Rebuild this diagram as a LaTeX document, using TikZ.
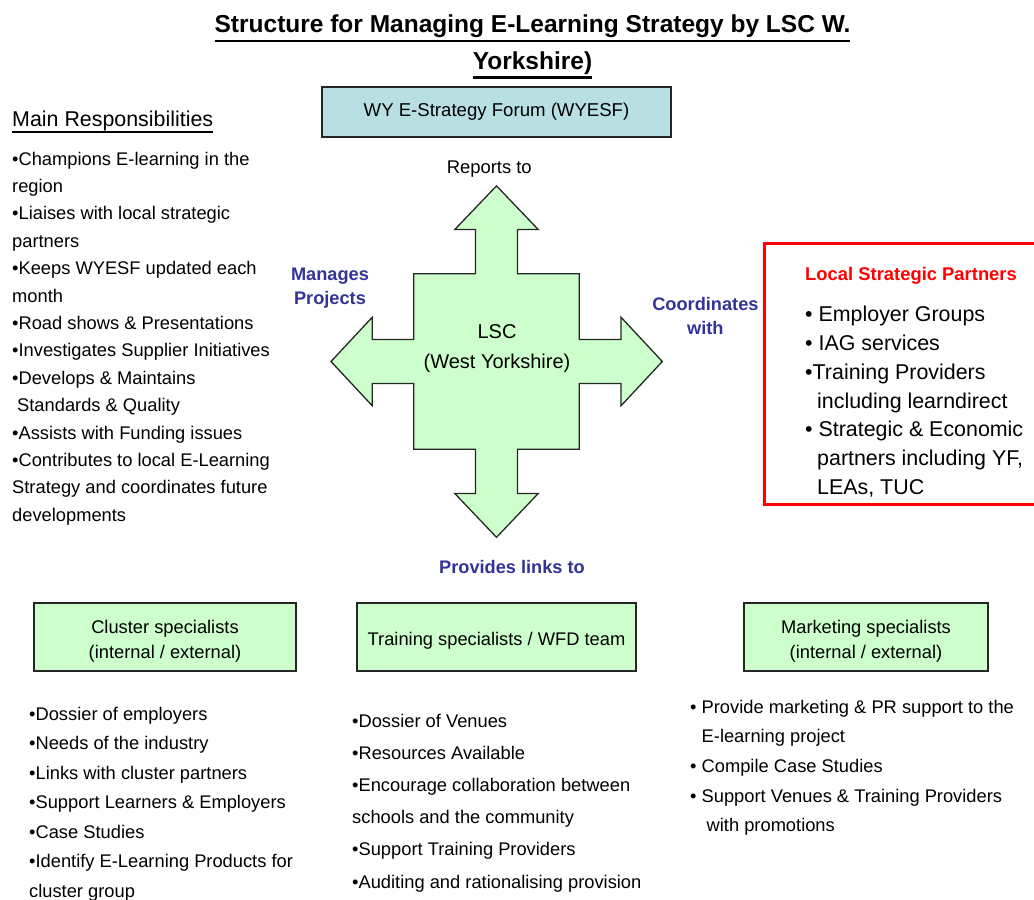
\documentclass[tikz,border=0pt]{standalone}
\usepackage{fontspec}
\setmainfont{Liberation Sans}
\usepackage{tikz}
\definecolor{lscgreen}{RGB}{204,255,204}
\definecolor{forumcyan}{RGB}{184,224,226}
\definecolor{linkblue}{RGB}{51,51,153}
\definecolor{partnerred}{RGB}{255,0,0}
% underline with own depth and thickness
\newsavebox{\ulbox}
\newcommand{\ultext}[3]{\sbox\ulbox{#3}\rlap{\rule[-#1]{\wd\ulbox}{#2}}\usebox\ulbox}
% taller first line, sets box text a little lower
\newcommand{\boxstrut}{\rule{0pt}{21pt}}
\tikzset{
  headline/.style={anchor=base, align=center, inner sep=0pt, font=\bfseries\fontsize{24.5}{37.5}\selectfont},
  forumbox/.style={rectangle, draw=black!85, line width=1.3pt, fill=forumcyan, align=center, font=\fontsize{18.6}{25}\selectfont},
  unitbox/.style={rectangle, draw=black!85, line width=1.3pt, fill=lscgreen, align=center, minimum height=68pt, font=\fontsize{18.3}{25}\selectfont},
  crossarrow/.style={draw=black!85, line width=1.3pt, fill=lscgreen},
  linklabel/.style={anchor=base, align=center, inner sep=0pt, text=linkblue, font=\bfseries\fontsize{18.2}{24.5}\selectfont},
  plainlabel/.style={anchor=base, align=center, inner sep=0pt, font=\fontsize{18.4}{25}\selectfont},
  duties/.style={anchor=base west, align=left, inner sep=0pt, font=\fontsize{18.3}{27.4}\selectfont},
  partnerbox/.style={rectangle, draw=partnerred, line width=3pt},
  partnerlist/.style={anchor=base west, align=left, inner sep=0pt, font=\fontsize{21.4}{28.8}\selectfont}
}
\begin{document}
\begin{tikzpicture}[x=1pt,y=-1pt]
\path[use as bounding box, fill=white] (0,0) rectangle (1034,900);

% title (multi-line nodes sit on the baseline of their last line)
\node[headline] (headline) at (532.5,69.5)
  {\ultext{10pt}{2.4pt}{Structure for Managing E-Learning Strategy by LSC W.}\\\ultext{9pt}{2.4pt}{Yorkshire)}};

% forum on top
\node[forumbox, minimum width=349pt, minimum height=50pt] (forum) at (496.5,112) {WY E-Strategy Forum (WYESF)};
\node[plainlabel] (reports) at (489.3,173) {Reports to};

% four-way arrow round the LSC
\begin{scope}[shift={(496.5,361.5)}]
\draw[crossarrow] (0,-175.6) -- (41.7,-132) -- (21,-132) -- (21,-87.7) -- (82.8,-87.7)
  -- (82.8,-22) -- (124.5,-22) -- (124.5,-44.3) -- (165.8,0) -- (124.5,44.3) -- (124.5,22)
  -- (82.8,22) -- (82.8,87.7) -- (21,87.7) -- (21,132) -- (41.7,132) -- (0,175.8)
  -- (-41.7,132) -- (-21,132) -- (-21,87.7) -- (-82.8,87.7) -- (-82.8,22) -- (-124.2,22)
  -- (-124.2,44.3) -- (-165.5,0) -- (-124.2,-44.3) -- (-124.2,-22) -- (-82.8,-22)
  -- (-82.8,-87.7) -- (-21,-87.7) -- (-21,-132) -- (-41.7,-132) -- cycle;
\end{scope}
\node[plainlabel, font=\fontsize{20}{30}\selectfont] (lsc) at (497,368) {LSC\\(West Yorkshire)};

\node[linklabel] (manages) at (330,304.5) {Manages\\Projects};
\node[linklabel] (coordinates) at (705.4,334.5) {Coordinates\\with};
\node[linklabel] (provides) at (512,573) {Provides links to};

% responsibilities on the left
\node[duties, font=\fontsize{21.4}{27}\selectfont] (mainhead) at (12,126.7)
  {\ultext{6pt}{2pt}{Main Responsibilities}};
\node[duties] (duties) at (12,521.2) {•Champions E-learning in the\\region\\•Liaises with local strategic\\partners\\•Keeps WYESF updated each\\month\\•Road shows \& Presentations\\•Investigates Supplier Initiatives\\•Develops \& Maintains\\\hspace*{5pt}Standards \& Quality\\•Assists with Funding issues\\•Contributes to local E-Learning\\Strategy and coordinates future\\developments};

% partners on the right
\node[partnerbox, anchor=north west, minimum width=285pt, minimum height=261pt] (partners) at (762.7,241.7) {};
\node[anchor=base west, inner sep=0pt, text=partnerred, font=\bfseries\fontsize{18.4}{24}\selectfont] (partnerhead) at (805,280) {Local Strategic Partners};
\node[partnerlist] (partnerlist) at (805,494.5) {• Employer Groups\\• IAG services\\•Training Providers\\\hspace*{12pt}including learndirect\\• Strategic \& Economic\\\hspace*{12pt}partners including YF,\\\hspace*{12pt}LEAs, TUC};

% specialist teams
\node[unitbox, minimum width=262pt] (cluster) at (165,637) {\boxstrut Cluster specialists\\(internal / external)};
\node[unitbox, minimum width=279pt] (training) at (496.5,637) {\boxstrut Training specialists / WFD team};
\node[unitbox, minimum width=244pt] (marketing) at (866,637) {\boxstrut Marketing specialists\\(internal / external)};

\node[duties, font=\fontsize{18.3}{29.5}\selectfont] (clusterduties) at (29,897) {•Dossier of employers\\•Needs of the industry\\•Links with cluster partners\\•Support Learners \& Employers\\•Case Studies\\•Identify E-Learning Products for\\cluster group};
\node[duties, font=\fontsize{18.3}{32.2}\selectfont] (trainingduties) at (352,888) {•Dossier of Venues\\•Resources Available\\•Encourage collaboration between\\schools and the community\\•Support Training Providers\\•Auditing and rationalising provision};
\node[duties, font=\fontsize{18.3}{29.6}\selectfont] (marketingduties) at (690,831.7) {• Provide marketing \& PR support to the\\\hspace*{11.5pt}E-learning project\\• Compile Case Studies\\• Support Venues \& Training Providers\\\hspace*{16.5pt}with promotions};
\end{tikzpicture}
\end{document}
